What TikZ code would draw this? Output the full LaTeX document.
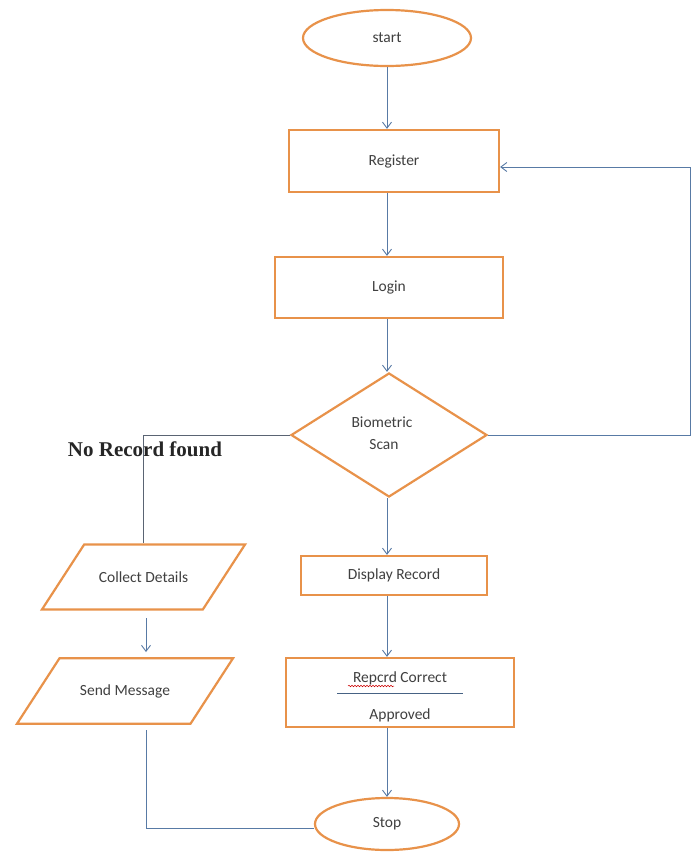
\documentclass[tikz,border=0pt]{standalone}
\usepackage{fontspec}
\setmainfont{Carlito}
\newfontfamily\serifbold{Liberation Serif}
\usetikzlibrary{shapes.geometric,arrows.meta,decorations.pathmorphing}
\definecolor{boxorange}{RGB}{232,146,74}
\definecolor{arrowblue}{RGB}{88,122,165}
\definecolor{linegray}{RGB}{90,100,115}
\tikzset{
  lbl/.style={font=\fontsize{15.5}{18}\selectfont,text=black!75},
  box/.style={draw=boxorange,line width=2.2pt,fill=white,inner sep=0pt,lbl},
  rectbox/.style={box,rectangle},
  ovalbox/.style={box,ellipse},
  decbox/.style={box,diamond,align=center},
  iobox/.style={box,trapezium,trapezium left angle=57,trapezium right angle=123,trapezium stretches body,inner xsep=0pt},
  flow/.style={draw=arrowblue,line width=0.9pt,-{Straight Barb[length=6pt,width=9pt]}},
  plain/.style={draw=linegray,line width=1pt},
}
\begin{document}
\begin{tikzpicture}[x=1pt,y=-1pt]
\useasboundingbox[fill=white] (0,0) rectangle (692,852);
\node[ovalbox,minimum width=168,minimum height=56] (start) at (387,38) {start};
\node[rectbox,minimum width=210,minimum height=62] (reg) at (394,161) {Register};
\node[rectbox,minimum width=228,minimum height=61] (login) at (389,287.5) {Login};
\node[decbox,minimum width=196,minimum height=124,aspect=1.58] (bio) at (389,435) {};
\node[lbl] (bio1) at (382,422) {Biometric};
\node[lbl] (bio2) at (384,445) {Scan};
\node[rectbox,minimum width=186,minimum height=39] (disp) at (394,575.5) {Display Record};
\node[rectbox,minimum width=228,minimum height=69] (rec) at (400,692.5) {};
\node[lbl] (rect1) at (400,678) {Repcrd Correct};
\node[lbl] (rect2) at (400,715) {Approved};
\coordinate (ln1) at (337,693);
\coordinate (ln2) at (463,693);
\draw[draw=arrowblue!80!black,line width=0.8pt] (ln1) -- (ln2);
\coordinate (sq1) at (348,686);
\coordinate (sq2) at (394,686);
\draw[red!80!black,line width=0.5pt,decorate,decoration={snake,amplitude=0.8pt,segment length=3pt}] (sq1) -- (sq2);
\node[ovalbox,minimum width=144,minimum height=52] (stop) at (387,824) {Stop};
\node[iobox,minimum width=203,inner ysep=27pt] (coll) at (143.5,577) {Collect Details};
\node[iobox,minimum width=216,inner ysep=26pt] (send) at (125,691) {Send Message};
\node[font=\serifbold\bfseries\fontsize{21}{24}\selectfont,text=black!85] (norec) at (145,449) {No Record found};
% main flow
\draw[flow] (start.south) -- (start.south |- reg.north);
\draw[flow] (start.south |- reg.south) -- (start.south |- login.north);
\draw[flow] (start.south |- login.south) -- (start.south |- bio.north);
\draw[flow] (start.south |- bio.south) -- (start.south |- disp.north);
\draw[flow] (start.south |- disp.south) -- (start.south |- rec.north);
\draw[flow] (start.south |- rec.south) -- (stop.north);
% loop back
\coordinate (rr) at (690,435);
\coordinate (ru) at (690,167);
\draw[draw=arrowblue,line width=0.9pt] (bio.east) -- (rr) -- (ru);
\draw[flow] (ru) -- (reg.east |- ru);
% no record branch
\coordinate (nl) at (143,435);
\draw[plain] (bio.west) -- (nl) -- (nl |- coll.north);
\coordinate (ca) at (146,618);
\coordinate (cb) at (146,652);
\draw[flow] (ca) -- (cb);
\coordinate (sd) at (146,730);
\coordinate (sc) at (146,828);
\draw[draw=arrowblue,line width=0.9pt] (sd) -- (sc) -- (stop.west |- sc);
\end{tikzpicture}
\end{document}
